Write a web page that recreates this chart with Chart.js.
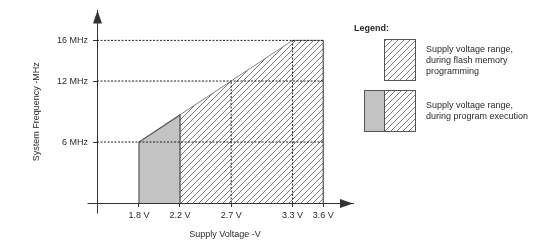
<!DOCTYPE html>
<html>
<head>
<meta charset="utf-8">
<script src="https://cdn.jsdelivr.net/npm/chart.js@4"></script>
<style>
  html, body { margin: 0; padding: 0; background: #fff; }
  #wrap { width: 540px; height: 240px; position: relative; }
</style>
</head>
<body>
<div id="wrap"><canvas id="c" width="540" height="240"></canvas></div>
<script>
// ---- data ----
const voltageTicks = [1.8, 2.2, 2.7, 3.3, 3.6];
const voltageTickLabels = ['1.8 V', '2.2 V', '2.7 V', '3.3 V', '3.6 V'];
const freqTicks = [6, 12, 16];
const freqTickLabels = ['6 MHz', '12 MHz', '16 MHz'];

// program execution only region (grey)
const execVoltage = [1.8, 1.8, 2.2, 2.2];
const execFreq = [0, 6, 8.67, 0];

// flash programming region (hatched)
const flashVoltage = [2.2, 2.2, 3.3, 3.6, 3.6];
const flashFreq = [0, 8.67, 16, 16, 0];

// dashed guide lines
const guideHFreqs = [6, 12, 16];
const guideHEndVoltage = 3.6;
const guideVVoltages = [2.7, 3.3];
const guideVTopFreqs = [12, 16];

const xTitle = 'Supply Voltage -V';
const yTitle = 'System Frequency -MHz';
const legendTitle = 'Legend:';
const legendFlashText = ['Supply voltage range,', 'during flash memory', 'programming'];
const legendExecText = ['Supply voltage range,', 'during program execution'];

// ---- styles ----
const X_MIN = 1.39, X_MAX = 3.89, Y_MIN = 0, Y_MAX = 18.95;
const FONT = "'Liberation Sans', Arial, Helvetica, sans-serif";
const textColor = '#2a2a2a';
const axisColor = '#333';
const dashColor = '#222';
const greyFill = '#c3c3c3';
const edgeColor = '#666';

function makeHatch() {
  const s = 6;
  const c = document.createElement('canvas');
  c.width = s; c.height = s;
  const g = c.getContext('2d');
  g.fillStyle = '#fff';
  g.fillRect(0, 0, s, s);
  g.strokeStyle = '#555';
  g.lineWidth = 0.8;
  g.beginPath();
  g.moveTo(0, s); g.lineTo(s, 0);
  g.moveTo(-1, 1); g.lineTo(1, -1);
  g.moveTo(s - 1, s + 1); g.lineTo(s + 1, s - 1);
  g.stroke();
  return g.createPattern(c, 'repeat');
}
const hatch = makeHatch();

const pts = (xs, ys) => xs.map((x, i) => ({ x, y: ys[i] }));

const datasets = [];
guideHFreqs.forEach(f => datasets.push({
  data: [{ x: X_MIN, y: f }, { x: guideHEndVoltage, y: f }],
  borderColor: dashColor, borderWidth: 1, borderDash: [2, 1.5],
  pointRadius: 0, fill: false, order: 0
}));
guideVVoltages.forEach((v, i) => datasets.push({
  data: [{ x: v, y: 0 }, { x: v, y: guideVTopFreqs[i] }],
  borderColor: dashColor, borderWidth: 1, borderDash: [2, 1.5],
  pointRadius: 0, fill: false, order: 0
}));
datasets.push({
  label: 'flash',
  data: pts(flashVoltage, flashFreq),
  borderColor: edgeColor, borderWidth: 0.8,
  backgroundColor: hatch, fill: 'origin',
  pointRadius: 0, tension: 0, order: 2
});
datasets.push({
  label: 'execution',
  data: pts(execVoltage, execFreq),
  borderColor: '#555', borderWidth: 1.2,
  backgroundColor: greyFill, fill: 'origin',
  pointRadius: 0, tension: 0, order: 1
});

const decor = {
  id: 'decor',
  afterDraw(chart) {
    const { ctx, chartArea: { left, right, top, bottom } } = chart;
    const ax = Math.round(left) + 0.5, ay = Math.round(bottom) + 0.5;
    ctx.save();
    ctx.strokeStyle = axisColor; ctx.fillStyle = axisColor; ctx.lineWidth = 1;
    ctx.beginPath();
    ctx.moveTo(ax, ay); ctx.lineTo(ax, ay + 10);
    ctx.moveTo(ax - 10, ay); ctx.lineTo(ax, ay);
    ctx.stroke();
    // arrows
    ctx.beginPath();
    ctx.moveTo(ax, top); ctx.lineTo(ax - 4.5, top + 13); ctx.lineTo(ax + 4.5, top + 13); ctx.closePath(); ctx.fill();
    ctx.beginPath();
    ctx.moveTo(right, ay); ctx.lineTo(right - 13, ay - 4.5); ctx.lineTo(right - 13, ay + 4.5); ctx.closePath(); ctx.fill();
    // y title
    ctx.fillStyle = textColor;
    ctx.font = '9px ' + FONT;
    ctx.save();
    ctx.translate(37, (top + bottom + 10) / 2);
    ctx.rotate(-Math.PI / 2);
    ctx.textAlign = 'center'; ctx.textBaseline = 'middle';
    ctx.fillText(yTitle, 0, 0);
    ctx.restore();
    // legend
    ctx.textAlign = 'left'; ctx.textBaseline = 'middle';
    ctx.font = 'bold 9px ' + FONT;
    ctx.fillText(legendTitle, 354, 29);
    ctx.font = '9px ' + FONT;
    ctx.strokeStyle = '#555';
    // box 1
    ctx.fillStyle = hatch;
    ctx.fillRect(384.5, 39.5, 31, 41);
    ctx.strokeRect(384.5, 39.5, 31, 41);
    // box 2
    ctx.fillStyle = greyFill;
    ctx.fillRect(364.5, 90.5, 20, 41);
    ctx.fillStyle = hatch;
    ctx.fillRect(384.5, 90.5, 31, 41);
    ctx.strokeRect(364.5, 90.5, 51, 41);
    ctx.beginPath(); ctx.moveTo(384.5, 90.5); ctx.lineTo(384.5, 131.5); ctx.stroke();
    ctx.fillStyle = textColor;
    legendFlashText.forEach((t, i) => ctx.fillText(t, 426, 49.5 + i * 11));
    legendExecText.forEach((t, i) => ctx.fillText(t, 426, 106 + i * 11));
    ctx.restore();
  }
};

Chart.defaults.font.family = FONT;
Chart.defaults.font.size = 9;
Chart.defaults.color = textColor;

new Chart(document.getElementById('c'), {
  type: 'line',
  data: { datasets },
  plugins: [decor],
  options: {
    responsive: false,
    animation: false,
    events: [],
    layout: { padding: { left: 0, top: 10, right: 187, bottom: 0 } },
    plugins: { legend: { display: false }, tooltip: { enabled: false } },
    scales: {
      x: {
        type: 'linear', min: X_MIN, max: X_MAX,
        afterBuildTicks: s => { s.ticks = voltageTicks.map(v => ({ value: v })); },
        afterFit: s => { s.height = 37; },
        ticks: {
          autoSkip: false, maxRotation: 0, padding: 3,
          callback: v => voltageTickLabels[voltageTicks.indexOf(v)] ?? ''
        },
        grid: { drawOnChartArea: false, tickLength: 4, color: axisColor, tickColor: axisColor },
        border: { display: true, color: axisColor, width: 1 },
        title: { display: true, text: xTitle, padding: { top: 0, bottom: 0 }, color: textColor }
      },
      y: {
        type: 'linear', min: Y_MIN, max: Y_MAX,
        afterBuildTicks: s => { s.ticks = freqTicks.map(v => ({ value: v })); },
        afterFit: s => { s.width = 97; },
        ticks: {
          autoSkip: false, padding: 5,
          callback: v => freqTickLabels[freqTicks.indexOf(v)] ?? ''
        },
        grid: { drawOnChartArea: false, tickLength: 4, color: axisColor, tickColor: axisColor },
        border: { display: true, color: axisColor, width: 1 }
      }
    }
  }
});
</script>
</body>
</html>
